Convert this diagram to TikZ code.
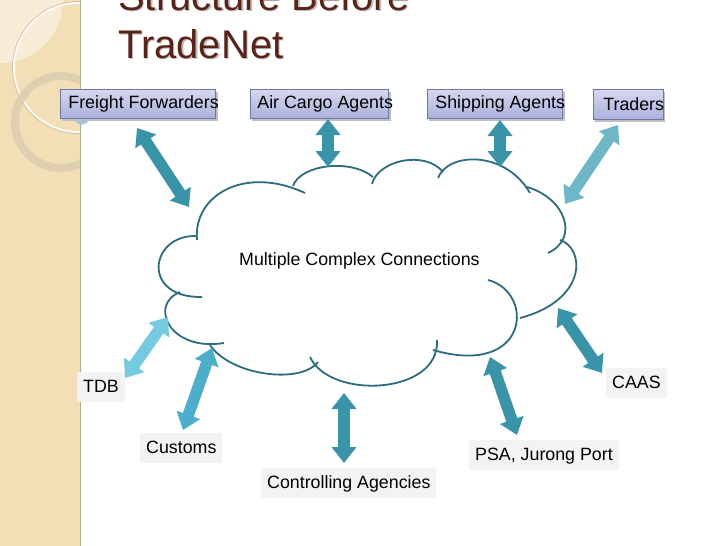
\documentclass[tikz,border=0pt]{standalone}
\usepackage{fontspec}
\setmainfont{Liberation Sans}
\usetikzlibrary{arrows.meta}
\definecolor{beige}{HTML}{F2DFB6}
\definecolor{beigelight}{HTML}{F7ECD6}
\definecolor{ringcol}{HTML}{D8CBAE}
\definecolor{stripedge}{HTML}{B9AA8A}
\definecolor{titlecol}{HTML}{5B2218}
\definecolor{boxtop}{HTML}{D6D8EF}
\definecolor{boxbot}{HTML}{AAB0DB}
\definecolor{boxline}{HTML}{6F76A6}
\definecolor{cloudcol}{HTML}{2B6D7E}
\definecolor{arrmain}{HTML}{3994AA}
\definecolor{arrtr}{HTML}{6DB7C7}
\definecolor{arrtdb}{HTML}{74CAE2}
\definecolor{arrcu}{HTML}{4BAFCB}
\definecolor{lblbg}{HTML}{F3F3F3}
\definecolor{dotblue}{HTML}{9CC8E0}
\begin{document}
\begin{tikzpicture}[x=1pt,y=-1pt,
  txt/.style={font=\fontsize{17.8}{20}\selectfont},
  topbox/.style={txt, draw=boxline, line width=0.8pt, top color=boxtop, bottom color=boxbot,
    anchor=north west, minimum height=29pt, inner ysep=0pt, align=left},
  shadowbox/.style={fill=black!25, draw=none},
  botlbl/.style={txt, fill=lblbg, anchor=base west, inner xsep=6pt, inner ysep=7pt,
    text height=13pt, text depth=3pt},
  blockarr/.style={line width=11.5pt, {Triangle[length=16pt,width=24pt]}-{Triangle[length=16pt,width=24pt]}},
  cloudline/.style={draw=cloudcol, line width=1.8pt},
  titletxt/.style={font=\fontsize{40}{44}\selectfont, anchor=base west, inner sep=0pt}
]
\useasboundingbox (0,0) rectangle (728,546);
% left decorative strip
\fill[beige] (0,0) rectangle (80,546);
\begin{scope}
  \clip (0,0) rectangle (80,546);
  \fill[beigelight] (0,0) circle[radius=63];
  \draw[white!85!beige, line width=2pt] (78.5,67.5) circle[radius=64.5];
  \draw[ringcol!80!gray, line width=0.6pt] (78.5,67.5) circle[radius=66];
  \draw[ringcol, opacity=0.8, line width=8pt] (61,122) circle[radius=46];
\end{scope}
\draw[stripedge, line width=1.5pt] (80.5,0) -- (80.5,546);
\fill[dotblue] (82,117) circle[radius=7.5];
% title
\node[titletxt, text=black!25] at (119.5,11.5) {Structure Before};
\node[titletxt, text=black!25] at (119.5,59.5) {TradeNet};
\node[titletxt, text=titlecol] (title1) at (118,10) {Structure Before};
\node[titletxt, text=titlecol] (title2) at (118,58) {TradeNet};
% top boxes
\fill[shadowbox] (62,92) rectangle (218,121);
\fill[shadowbox] (252,92) rectangle (391,121);
\fill[shadowbox] (429,92) rectangle (565,121);
\fill[shadowbox] (595,92) rectangle (665,122);
\node[topbox, minimum width=155pt, inner xsep=8pt] (ff) at (60,89) {\makebox[139pt][l]{Freight Forwarders}};
\node[topbox, minimum width=138pt, inner xsep=7pt] (ac) at (250,89) {\makebox[124pt][l]{Air Cargo Agents}};
\node[topbox, minimum width=135pt, inner xsep=8pt] (sa) at (427,89) {\makebox[119pt][l]{Shipping Agents}};
\node[topbox, minimum width=70pt, inner xsep=10pt, minimum height=30pt] (tr) at (593,89) {\makebox[50pt][l]{Traders}};
% bottom labels
\node[botlbl] (tdb) at (77,392) {TDB};
\node[botlbl] (cu) at (140,453) {Customs};
\node[botlbl] (ca) at (261,488) {Controlling Agencies};
\node[botlbl] (psa) at (469,460) {PSA, Jurong Port};
\node[botlbl] (caas) at (606,388) {CAAS};
% cloud
\draw[cloudline] (197,240) .. controls (193,195) and (245,165) .. (305,193);
\draw[cloudline] (293,186) .. controls (300,165) and (350,158) .. (373,177);
\draw[cloudline] (372,184) .. controls (378,160) and (425,150) .. (443,172);
\draw[cloudline] (438,178) .. controls (448,152) and (505,150) .. (530,193);
\draw[cloudline] (527,187) .. controls (565,198) and (580,238) .. (548,253);
\draw[cloudline] (560,240) .. controls (585,248) and (588,300) .. (520,318);
\draw[cloudline] (488,280) .. controls (535,292) and (530,378) .. (433,350);
\draw[cloudline] (437,340) .. controls (440,395) and (330,400) .. (310,357);
\draw[cloudline] (318,362) .. controls (300,385) and (230,375) .. (210,345);
\draw[cloudline] (224,343) .. controls (170,352) and (148,305) .. (180,292);
\draw[cloudline] (197,236) .. controls (150,234) and (140,298) .. (202,297);
\node[txt, anchor=base west, inner sep=0pt] (cloud) at (239,265) {Multiple Complex Connections};
% arrow end points
\coordinate (ffA) at (137,128); \coordinate (ffB) at (189,207);
\coordinate (acA) at (328,119); \coordinate (acB) at (328,167);
\coordinate (saA) at (500,120); \coordinate (saB) at (500,167);
\coordinate (trA) at (618,125); \coordinate (trB) at (565,204);
\coordinate (tdbA) at (168,317); \coordinate (tdbB) at (125,378);
\coordinate (cuA) at (212,348); \coordinate (cuB) at (183,430);
\coordinate (caA) at (344,393); \coordinate (caB) at (344,463);
\coordinate (psaA) at (490,357); \coordinate (psaB) at (517,435);
\coordinate (caasA) at (558,308); \coordinate (caasB) at (602,373);
% arrows
\draw[blockarr, arrmain] (ffA) -- (ffB);
\draw[blockarr, arrmain] (acA) -- (acB);
\draw[blockarr, arrmain] (saA) -- (saB);
\draw[blockarr, arrtr] (trA) -- (trB);
\draw[blockarr, arrtdb] (tdbA) -- (tdbB);
\draw[blockarr, arrcu] (cuA) -- (cuB);
\draw[blockarr, arrmain] (caA) -- (caB);
\draw[blockarr, arrmain] (psaA) -- (psaB);
\draw[blockarr, arrmain] (caasA) -- (caasB);
\end{tikzpicture}
\end{document}
